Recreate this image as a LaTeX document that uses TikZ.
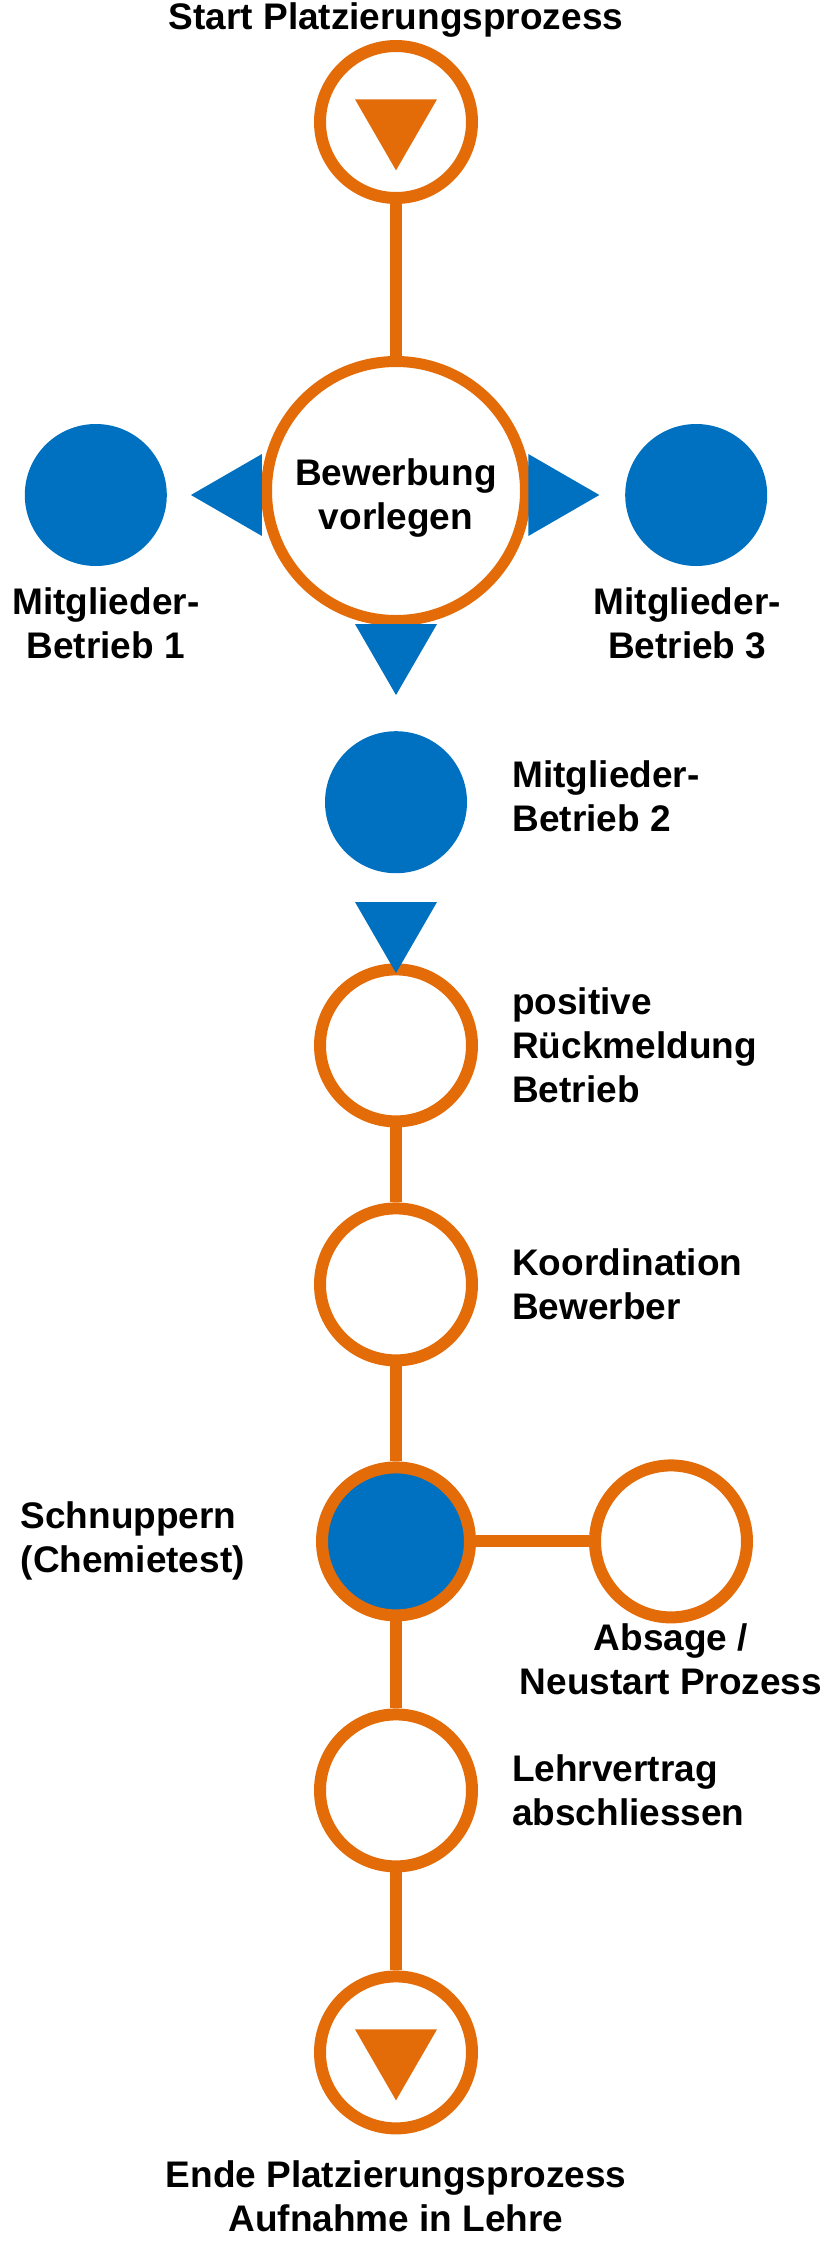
\documentclass[tikz,border=0pt]{standalone}
\usepackage{fontspec}
\setmainfont{Liberation Sans}
\usepackage{xcolor}
\usetikzlibrary{positioning,shapes.geometric}

\definecolor{procorange}{HTML}{E36C09}
\definecolor{procblue}{HTML}{0070C0}

\tikzset{
    ring/.style={circle, draw=procorange, line width=12pt, fill=white, minimum size=152pt, inner sep=0pt},
    bigring/.style={ring, line width=11pt, minimum size=259pt},
    bluering/.style={ring, fill=procblue, minimum size=148pt},
    member/.style={circle, fill=procblue, minimum size=142pt, inner sep=0pt},
    arrowtri/.style={regular polygon, regular polygon sides=3, minimum size=94.7pt, inner sep=0pt},
    lbl/.style={font=\fontsize{37}{44}\selectfont\bfseries, inner sep=0pt},
    link/.style={draw=procorange, line width=12pt},
}

\begin{document}
\begin{tikzpicture}[x=1pt, y=-1pt]
        \useasboundingbox (0,0) rectangle (823,2243);

        % main chain
        \node[ring] (start) at (396,122) {};
        \node[bigring] (bew) [below=152pt of start] {};
        \node[member] (mb1) [left=94pt of bew, yshift=-4pt] {};
        \node[member] (mb3) [right=94pt of bew, yshift=-4pt] {};
        \node[member] (mb2) [below=105pt of bew] {};
        \node[ring] (posrm) [below=90pt of mb2] {};
        \node[ring] (koord) [below=75pt of posrm] {};
        \node[bluering] (schnup) [below=95pt of koord] {};
        \node[ring] (absage) [right=113pt of schnup] {};
        \node[ring] (lehrv) [below=87pt of schnup] {};
        \node[ring] (ende) [below=98pt of lehrv] {};

        % triangles
        \node[arrowtri, fill=procorange, shape border rotate=180] (starttri) at (396,123) {};
        \node[arrowtri, fill=procblue, shape border rotate=90] (lefttri) at (238.3,495) {};
        \node[arrowtri, fill=procblue, shape border rotate=-90] (righttri) at (552,495) {};
        \node[arrowtri, fill=procblue, shape border rotate=180] (downtri) at (396,647.7) {};
        \node[arrowtri, fill=procblue, shape border rotate=180] (mb2tri) at (396,925.7) {};
        \node[arrowtri, fill=procorange, shape border rotate=180] (endetri) at (396,2053) {};

        % connectors
        \draw[link] (start) -- (bew);
        \draw[link] (posrm) -- (koord);
        \draw[link] (koord) -- (schnup);
        \draw[link] (schnup) -- (absage);
        \draw[link] (schnup) -- (lehrv);
        \draw[link] (lehrv) -- (ende);

        % labels
        \node[lbl, align=center] (bewlbl) at ([yshift=-7pt]bew.center) {Bewerbung\\vorlegen};
        \node[lbl] (startlbl) [above=2pt of start] {Start Platzierungsprozess};
        \node[lbl, align=center] (mb1lbl) [below=21pt of mb1, xshift=10pt] {Mitglieder-\\Betrieb 1};
        \node[lbl, align=center] (mb3lbl) [below=21pt of mb3, xshift=-9pt] {Mitglieder-\\Betrieb 3};
        \node[lbl, align=left] (mb2lbl) [right=45pt of mb2, yshift=6pt] {Mitglieder-\\Betrieb 2};
        \node[lbl, align=left] (poslbl) [right=34pt of posrm] {positive\\Rückmeldung\\Betrieb};
        \node[lbl, align=left] (koordlbl) [right=34pt of koord] {Koordination\\Bewerber};
        \node[lbl, align=left] (schnlbl) [left=71pt of schnup] {Schnuppern\\(Chemietest)};
        \node[lbl, align=center] (absagelbl) [below=0pt of absage] {Absage /\\Neustart Prozess};
        \node[lbl, align=left] (lehrlbl) [right=34pt of lehrv] {Lehrvertrag\\abschliessen};
        \node[lbl, align=center] (endelbl) [below=26pt of ende] {Ende Platzierungsprozess\\Aufnahme in Lehre};
\end{tikzpicture}
\end{document}
